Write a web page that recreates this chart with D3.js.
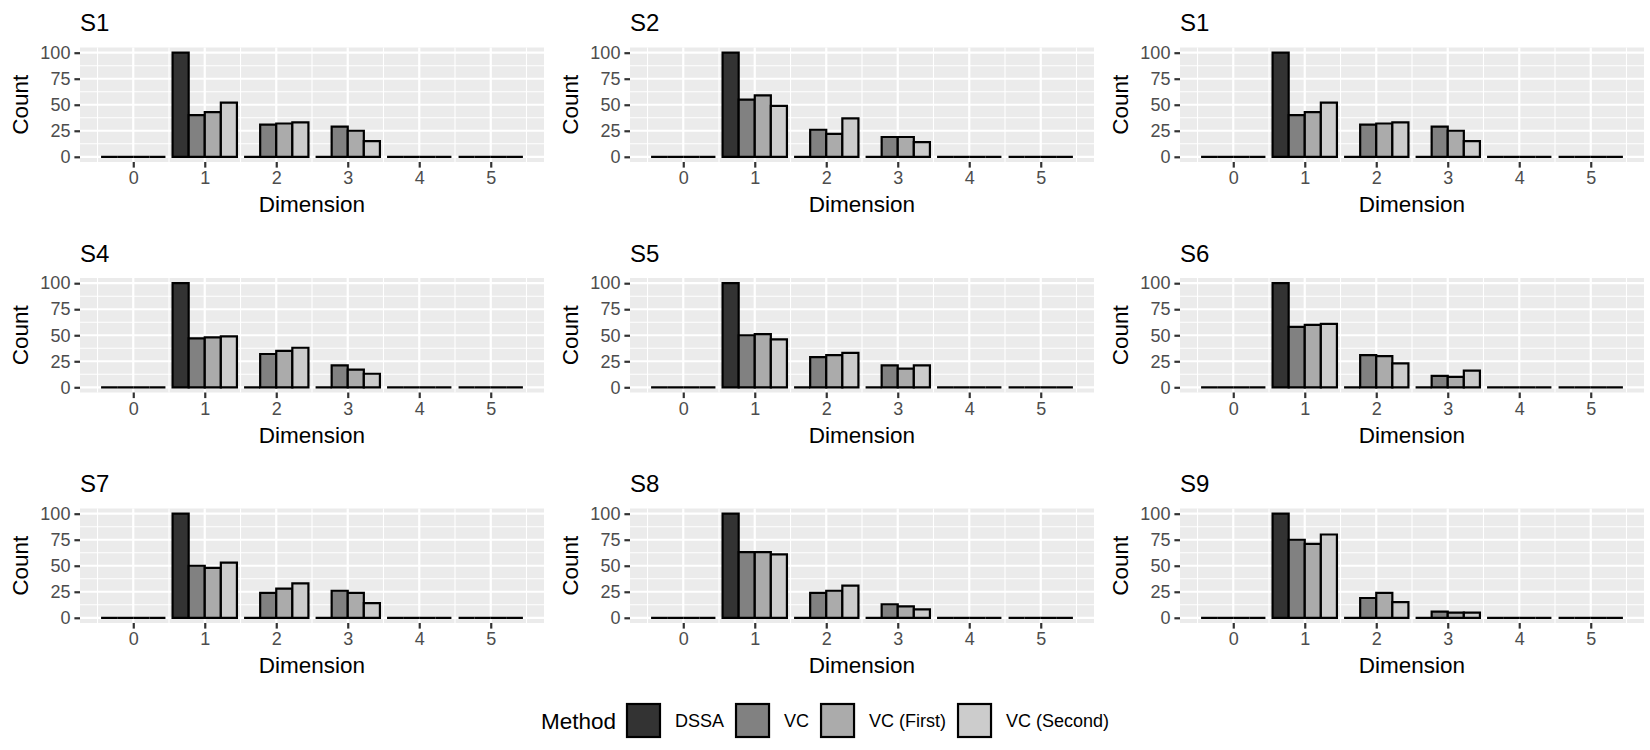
<!DOCTYPE html>
<html>
<head>
<meta charset="utf-8">
<script src="https://cdn.jsdelivr.net/npm/d3@7"></script>
<style>
  body { margin: 0; background: #fff; }
  text { font-family: "Liberation Sans", Arial, Helvetica, sans-serif; }
</style>
</head>
<body>
<script>
// data
var panelTitles = ["S1", "S2", "S1", "S4", "S5", "S6", "S7", "S8", "S9"];
var dims = [0, 1, 2, 3, 4, 5];
var methods = ["DSSA", "VC", "VC (First)", "VC (Second)"];
var yTicks = [0, 25, 50, 75, 100];

var dssa = [0, 100, 0, 0, 0, 0];

var countsS1 = [dssa, [0, 40, 31, 29, 0, 0], [0, 43, 32, 25, 0, 0], [0, 52, 33, 15, 0, 0]];
var countsS2 = [dssa, [0, 55, 26, 19, 0, 0], [0, 59, 22, 19, 0, 0], [0, 49, 37, 14, 0, 0]];
var countsS4 = [dssa, [0, 47, 32, 21, 0, 0], [0, 48, 35, 17, 0, 0], [0, 49, 38, 13, 0, 0]];
var countsS5 = [dssa, [0, 50, 29, 21, 0, 0], [0, 51, 31, 18, 0, 0], [0, 46, 33, 21, 0, 0]];
var countsS6 = [dssa, [0, 58, 31, 11, 0, 0], [0, 60, 30, 10, 0, 0], [0, 61, 23, 16, 0, 0]];
var countsS7 = [dssa, [0, 50, 24, 26, 0, 0], [0, 48, 28, 24, 0, 0], [0, 53, 33, 14, 0, 0]];
var countsS8 = [dssa, [0, 63, 24, 13, 0, 0], [0, 63, 26, 11, 0, 0], [0, 61, 31, 8, 0, 0]];
var countsS9 = [dssa, [0, 75, 19, 6, 0, 0], [0, 71, 24, 5, 0, 0], [0, 80, 15, 5, 0, 0]];

var panelCounts = [countsS1, countsS2, countsS1, countsS4, countsS5, countsS6, countsS7, countsS8, countsS9];

var fill = d3.scaleOrdinal()
    .domain(methods)
    .range(["#333333", "#818181", "#ABABAB", "#CCCCCC"]);

var width = 1650, height = 750;
var colW = 550, rowH = 230.5;
var pLeft = 80, pRight = 544, pTop = 47.5, pBottom = 162;

var svg = d3.select("body")
    .append("svg")
    .attr("width", width)
    .attr("height", height)
    .style("display", "block");

var barW = 0.9 / methods.length;

panelCounts.forEach(function(counts, i) {
    var col = i % 3, row = Math.floor(i / 3);
    var g = svg.append("g")
        .attr("transform", "translate(" + (col * colW) + "," + (row * rowH) + ")");

    var x = d3.scaleLinear().domain([-0.745, 5.745]).range([pLeft, pRight]);
    var y = d3.scaleLinear().domain([-5, 105]).range([pBottom, pTop]);

    g.append("rect")
        .attr("x", pLeft).attr("y", pTop)
        .attr("width", pRight - pLeft).attr("height", pBottom - pTop)
        .attr("fill", "#EBEBEB");

    // minor grid
    var xMinor = dims.map(function(d) { return d - 0.5; }).concat([5.5]);
    var yMinor = [12.5, 37.5, 62.5, 87.5];
    g.selectAll(".xminor").data(xMinor).enter().append("line")
        .attr("x1", function(d) { return x(d); }).attr("x2", function(d) { return x(d); })
        .attr("y1", pTop).attr("y2", pBottom)
        .attr("stroke", "#fff").attr("stroke-width", 1.1);
    g.selectAll(".yminor").data(yMinor).enter().append("line")
        .attr("y1", function(d) { return y(d); }).attr("y2", function(d) { return y(d); })
        .attr("x1", pLeft).attr("x2", pRight)
        .attr("stroke", "#fff").attr("stroke-width", 1.1);

    // major grid
    g.selectAll(".xmajor").data(dims).enter().append("line")
        .attr("x1", function(d) { return x(d); }).attr("x2", function(d) { return x(d); })
        .attr("y1", pTop).attr("y2", pBottom)
        .attr("stroke", "#fff").attr("stroke-width", 2.2);
    g.selectAll(".ymajor").data(yTicks).enter().append("line")
        .attr("y1", function(d) { return y(d); }).attr("y2", function(d) { return y(d); })
        .attr("x1", pLeft).attr("x2", pRight)
        .attr("stroke", "#fff").attr("stroke-width", 2.2);

    // bars (paths so zero counts still show as a flat black line)
    var bars = [];
    counts.forEach(function(vals, m) {
        vals.forEach(function(v, d) {
            bars.push({ m: m, d: d, v: v });
        });
    });
    g.selectAll(".bar").data(bars).enter().append("path")
        .attr("d", function(b) {
            var x0 = x(b.d - 0.45 + b.m * barW), x1 = x(b.d - 0.45 + (b.m + 1) * barW);
            var y0 = y(0), y1 = y(b.v);
            return "M" + x0 + "," + y0 + "H" + x1 + "V" + y1 + "H" + x0 + "Z";
        })
        .attr("fill", function(b) { return fill(methods[b.m]); })
        .attr("stroke", "#000")
        .attr("stroke-width", 2.2)
        .attr("stroke-linejoin", "miter");

    // axes
    var xAxis = d3.axisBottom(x).tickValues(dims).tickFormat(d3.format("d")).tickSize(5.6).tickPadding(4);
    var yAxis = d3.axisLeft(y).tickValues(yTicks).tickSize(5.6).tickPadding(4);

    var gx = g.append("g").attr("transform", "translate(0," + pBottom + ")").call(xAxis);
    var gy = g.append("g").attr("transform", "translate(" + pLeft + ",0)").call(yAxis);
    [gx, gy].forEach(function(a) {
        a.select(".domain").remove();
        a.selectAll("line").attr("stroke", "#333333").attr("stroke-width", 2.2);
        a.selectAll("text")
            .attr("fill", "#4D4D4D")
            .style("font-size", "18px")
            .style("font-family", "'Liberation Sans', Arial, sans-serif");
    });

    g.append("text")
        .attr("x", pLeft)
        .attr("y", 31)
        .attr("font-size", "24px")
        .attr("fill", "#000")
        .text(panelTitles[i]);

    g.append("text")
        .attr("x", (pLeft + pRight) / 2)
        .attr("y", 212)
        .attr("text-anchor", "middle")
        .attr("font-size", "22.5px")
        .text("Dimension");

    g.append("text")
        .attr("transform", "translate(28," + ((pTop + pBottom) / 2) + ") rotate(-90)")
        .attr("text-anchor", "middle")
        .attr("font-size", "22.5px")
        .text("Count");
});

// legend
var legend = svg.append("g");
var keySize = 35, keyTop = 703;
var cursor = 0;
var title = legend.append("text")
    .attr("x", 0)
    .attr("y", keyTop + keySize / 2 + 8)
    .attr("font-size", "22.5px")
    .text("Method");
cursor = title.node().getComputedTextLength() + 10;

methods.forEach(function(m) {
    legend.append("rect")
        .attr("x", cursor + 1).attr("y", keyTop + 1)
        .attr("width", keySize - 2).attr("height", keySize - 2)
        .attr("fill", fill(m))
        .attr("stroke", "#000")
        .attr("stroke-width", 2.2);
    cursor += keySize + 14;
    var t = legend.append("text")
        .attr("x", cursor)
        .attr("y", keyTop + keySize / 2 + 6.5)
        .attr("font-size", "18px")
        .text(m);
    cursor += t.node().getComputedTextLength() + 11;
});
cursor -= 11;
legend.attr("transform", "translate(" + (825 - cursor / 2) + ",0)");
</script>
</body>
</html>
